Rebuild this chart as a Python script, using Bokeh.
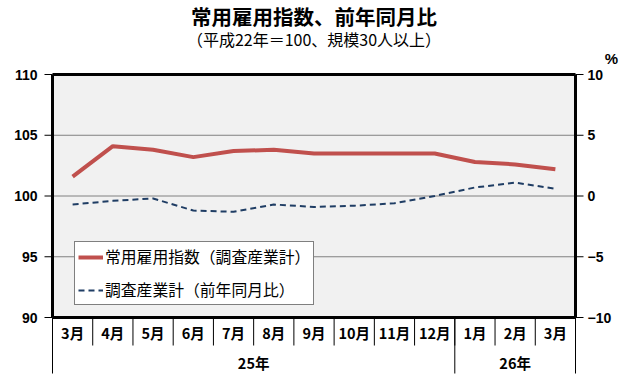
from bokeh.plotting import figure
from bokeh.models import Range1d, Legend, LegendItem, ColumnDataSource
from bokeh.core.properties import value
from bokeh.embed import file_html
from bokeh.resources import INLINE

months = ["3月", "4月", "5月", "6月", "7月", "8月", "9月", "10月", "11月", "12月", "1月", "2月", "3月"]
years = ["25年", "26年"]
year_spans = [10, 3]
index_values = [101.6, 104.1, 103.8, 103.2, 103.7, 103.8, 103.5, 103.5, 103.5, 103.5, 102.8, 102.6, 102.2]
yoy_values = [-0.7, -0.4, -0.2, -1.2, -1.3, -0.7, -0.9, -0.8, -0.6, 0.0, 0.7, 1.1, 0.6]
left_ticks = [90, 95, 100, 105, 110]
right_ticks = [-10, -5, 0, 5, 10]
right_labels = ["−10", "−5", "0", "5", "10"]

title = "常用雇用指数、前年同月比"
subtitle = "（平成22年＝100、規模30人以上）"

JP = "Noto Sans CJK JP"
W, H = 630, 380
n = len(months)
# plot area in page pixels
PL, PR, PT, PB = 52, 575, 74, 317
XU = (PR - PL) / n                                   # px per category
YU = (PB - PT) / (left_ticks[-1] - left_ticks[0])    # px per unit
ymax, ymin = left_ticks[-1], left_ticks[0]
rmax = right_ticks[-1]

def xd(px):   # page x -> data x
    return (px - PL) / XU

def yd(py):   # page y -> data y (left scale)
    return ymax - (py - PT) / YU

p = figure(width=W, height=H, output_backend="svg", toolbar_location=None,
           x_range=Range1d(xd(0), xd(W)), y_range=Range1d(yd(H), yd(0)),
           min_border=0, background_fill_color="white", border_fill_color="white",
           outline_line_color=None)
p.extra_y_ranges = {"pct": Range1d(rmax - (H - PT) / YU, rmax + PT / YU)}
p.axis.visible = False
p.grid.visible = False

# plot area
p.quad(left=0, right=n, bottom=ymin, top=ymax, fill_color="#F1F1F1", line_color=None)
inner = [t for t in left_ticks if ymin < t < ymax]
p.segment(x0=[0] * len(inner), x1=[n] * len(inner), y0=inner, y1=inner,
          line_color="#808080", line_width=1)

# left axis
tick_len = 8 / XU
p.segment(x0=[-tick_len] * len(left_ticks), x1=[0] * len(left_ticks), y0=left_ticks, y1=left_ticks,
          line_color="black", line_width=1)
p.text(x=[xd(37)] * len(left_ticks), y=left_ticks, text=[str(t) for t in left_ticks],
       text_align="right", text_baseline="middle", text_font=value("Liberation Sans"),
       text_font_size="14px", text_font_style="bold", text_color="black")
# right axis
p.segment(x0=[n] * len(right_ticks), x1=[n + tick_len] * len(right_ticks), y0=right_ticks,
          y1=right_ticks, y_range_name="pct", line_color="black", line_width=1)
p.text(x=[xd(587)] * len(right_ticks), y=right_ticks, text=right_labels, y_range_name="pct",
       text_align="left", text_baseline="middle", text_font=value("Liberation Sans"),
       text_font_size="14px", text_font_style="bold", text_color="black")
p.text(x=[xd(611)], y=[rmax + 16 / YU], text=["%"], y_range_name="pct",
       text_align="center", text_baseline="middle", text_font=value("Liberation Sans"),
       text_font_size="15px", text_font_style="bold", text_color="black")

# frame lines
p.segment(x0=[0, 0], x1=[n, n], y0=[ymax, ymin], y1=[ymax, ymin], line_color="black", line_width=3)
p.segment(x0=[0, n], x1=[0, n], y0=[ymin, ymin], y1=[ymax, ymax], line_color="black", line_width=3)

# data
xs = [i + 0.5 for i in range(n)]
src = ColumnDataSource(dict(x=xs, idx=index_values, yoy=yoy_values, m=months))
r1 = p.line("x", "idx", source=src, line_color="#C0504D", line_width=4)
r2 = p.line("x", "yoy", source=src, y_range_name="pct", line_color="#1F3D64",
            line_width=2, line_dash="6 4")

# category axis
bottom = yd(373)
sep_bottom = yd(PB + 28)
p.segment(x0=list(range(1, n)), y0=[ymin] * (n - 1), x1=list(range(1, n)), y1=[sep_bottom] * (n - 1),
          line_color="black", line_width=1)
bounds = [0]
for s in year_spans:
    bounds.append(bounds[-1] + s)
p.segment(x0=bounds, y0=[ymin] * len(bounds), x1=bounds, y1=[bottom] * len(bounds),
          line_color="black", line_width=1)
p.text(x="x", y=yd(PB + 15), text="m", source=src, text_align="center",
       text_baseline="middle", text_font=value(JP), text_font_size="14.5px",
       text_font_style="bold", text_color="black")
yc = [(bounds[i] + bounds[i + 1]) / 2 for i in range(len(years))]
p.text(x=yc, y=[yd(362)] * len(years), text=years, text_align="center",
       text_baseline="middle", text_font=value(JP), text_font_size="14.5px",
       text_font_style="bold", text_color="black")

# titles
p.text(x=[n / 2], y=[yd(15)], text=[title], text_align="center", text_baseline="middle",
       text_font=value(JP), text_font_size="20.5px", text_font_style="bold", text_color="black")
p.text(x=[n / 2], y=[yd(38)], text=[subtitle], text_align="center", text_baseline="middle",
       text_font=value(JP), text_font_size="16px", text_color="black")

legend = Legend(items=[LegendItem(label="常用雇用指数（調査産業計）", renderers=[r1]),
                       LegendItem(label="調査産業計（前年同月比）", renderers=[r2])],
                location=(74, H - 305), orientation="vertical")
legend.border_line_color = "black"
legend.border_line_width = 1
legend.background_fill_color = "white"
legend.background_fill_alpha = 1
legend.padding = 3
legend.spacing = 10
legend.margin = 0
legend.glyph_width = 25
legend.glyph_height = 20
legend.label_height = 20
legend.label_standoff = 2
legend.label_text_font = JP
legend.label_text_font_size = "15.8px"
legend.label_text_color = "black"
legend.label_text_baseline = "middle"
p.add_layout(legend)

open("out.html", "w").write(file_html(p, INLINE))
